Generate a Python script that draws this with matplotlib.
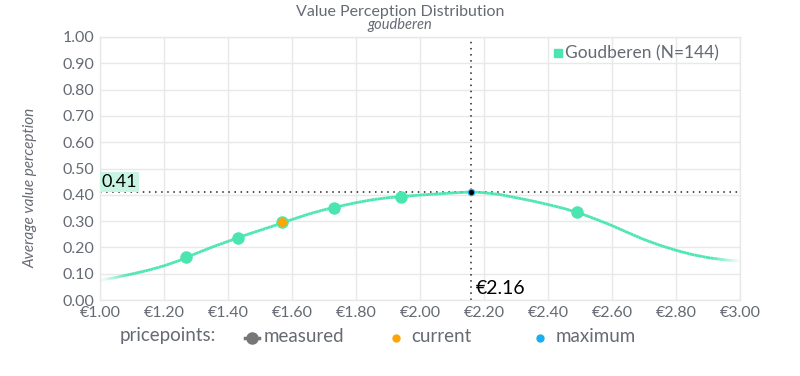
import matplotlib
matplotlib.use("Agg")
import matplotlib.pyplot as plt
from matplotlib.collections import LineCollection
from matplotlib.lines import Line2D
import numpy as np

plt.rcParams['font.family'] = ['Lato', 'DejaVu Sans']

# Fitted curve
curve_price = [1.00, 1.05, 1.10, 1.15, 1.20, 1.25, 1.30, 1.35, 1.40, 1.45, 1.50,
               1.55, 1.60, 1.65, 1.70, 1.75, 1.80, 1.85, 1.90, 1.95, 2.00, 2.05,
               2.10, 2.16, 2.20, 2.25, 2.30, 2.35, 2.40, 2.45, 2.50, 2.55, 2.60,
               2.65, 2.70, 2.75, 2.80, 2.85, 2.90, 2.95, 3.00]
curve_value = [0.075, 0.086, 0.099, 0.113, 0.130, 0.151, 0.177, 0.201, 0.223, 0.245, 0.265,
               0.285, 0.306, 0.326, 0.343, 0.357, 0.370, 0.381, 0.389, 0.394, 0.399, 0.403,
               0.407, 0.411, 0.408, 0.401, 0.389, 0.377, 0.363, 0.348, 0.330, 0.307, 0.283,
               0.256, 0.230, 0.208, 0.189, 0.173, 0.161, 0.153, 0.148]

# Measured price points
measured_price = [1.27, 1.43, 1.57, 1.73, 1.94, 2.49]
measured_value = [0.163, 0.237, 0.295, 0.351, 0.393, 0.333]

current_price = [1.57]
current_value = [0.295]

max_price = 2.16
max_value = 0.41

xticks = [1.0, 1.2, 1.4, 1.6, 1.8, 2.0, 2.2, 2.4, 2.6, 2.8, 3.0]
yticks = [0.0, 0.1, 0.2, 0.3, 0.4, 0.5, 0.6, 0.7, 0.8, 0.9, 1.0]

GREEN = '#4be6b0'
ORANGE = '#ffa500'
BLUE = '#1aaef2'
GRAY = '#666a73'

fig = plt.figure(figsize=(8, 3.76), dpi=100)
ax = fig.add_axes([0.125, 0.2021, 0.80, 0.6995])

ax.set_xlim(1.0, 3.0)
ax.set_ylim(0.0, 1.0)
ax.set_xticks(xticks)
ax.set_yticks(yticks)
ax.set_xticklabels([f"€{t:.2f}" for t in xticks])
ax.set_yticklabels([f"{t:.2f}" for t in yticks])
ax.tick_params(axis='both', length=0, colors=GRAY, labelsize=11.5, pad=4)
ax.grid(True, color='#e8e8e8', linewidth=1)
ax.set_axisbelow(True)
for s in ax.spines.values():
    s.set_color('#e8e8e8')
    s.set_linewidth(1)

# curve with faded ends (each read segment split into pieces only for the colour ramp)
segs = []
cols = []
for i in range(len(curve_price) - 1):
    x0, x1 = curve_price[i], curve_price[i + 1]
    y0, y1 = curve_value[i], curve_value[i + 1]
    k = 6
    for j in range(k):
        ta, tb = j / k, (j + 1) / k
        xa, xb = x0 + (x1 - x0) * ta, x0 + (x1 - x0) * tb
        ya, yb = y0 + (y1 - y0) * ta, y0 + (y1 - y0) * tb
        segs.append([(xa, ya), (xb, yb)])
        xm = 0.5 * (xa + xb)
        a = np.clip(min(xm - 1.0, 3.0 - xm) / 0.09, 0.08, 1.0)
        cols.append(matplotlib.colors.to_rgba(GREEN, a))
lc = LineCollection(segs, colors=cols, linewidths=2, capstyle='butt',
                    joinstyle='round', zorder=3)
ax.add_collection(lc)

# reference lines
ax.axhline(max_value, color='#222222', linestyle=(0, (1, 3)), linewidth=1.1, zorder=2)
ax.axvline(max_price, color='#222222', linestyle=(0, (1, 3)), linewidth=1.1, zorder=2)

ax.plot(measured_price, measured_value, 'o', color=GREEN, markersize=9, zorder=4,
        markeredgewidth=0)
ax.plot(current_price, current_value, 'o', color=ORANGE, markersize=6.5, zorder=5,
        markeredgewidth=0)
ax.plot([max_price], [max_value], 'o', color='black', markersize=4.5, zorder=6,
        markeredgecolor=BLUE, markeredgewidth=0.8)

ax.text(1.005, max_value + 0.008, "0.41", fontsize=13, color='black', ha='left', va='bottom',
        bbox=dict(boxstyle='square,pad=0.1', facecolor='#c8f5e3', edgecolor='none'),
        zorder=7)
ax.text(max_price + 0.015, 0.01, "€2.16", fontsize=14, color='black', ha='left', va='bottom',
        zorder=7)

# titles
fig.text(0.5, 0.987, "Value Perception Distribution", ha='center', va='top',
         fontsize=11.5, color=GRAY)
fig.text(0.5, 0.952, "goudberen", ha='center', va='top', fontsize=10.5,
         color=GRAY, style='italic')

ax.set_ylabel("Average value perception", fontsize=11, color=GRAY, style='italic')
ax.yaxis.set_label_coords(-0.097, 0.426)

# top-right legend
leg = ax.legend(handles=[Line2D([], [], marker='s', color=GREEN, linestyle='none',
                                markersize=5.5)],
                labels=["Goudberen (N=144)"], loc='upper right', frameon=False,
                fontsize=12.5, handlelength=0.5, handletextpad=0.15, borderaxespad=0.1,
                labelcolor=GRAY, bbox_to_anchor=(0.98, 1.0))

# bottom legend
ty = 1 - 336 / 376
fig.text(120/800, ty, "pricepoints:", ha='left', va='center', fontsize=13.5, color=GRAY)
fig.lines.append(Line2D([245/800, 259/800], [1-338/376, 1-338/376], color='#777777',
                        linewidth=2.5, transform=fig.transFigure))
fig.lines.append(Line2D([252/800], [1-338/376], marker='o', color='#777777',
                        markersize=8, transform=fig.transFigure, linestyle='none'))
fig.text(264/800, ty, "measured", ha='left', va='center', fontsize=13.5, color=GRAY)
fig.lines.append(Line2D([396/800], [1-338/376], marker='o', color=ORANGE,
                        markersize=5, transform=fig.transFigure, linestyle='none'))
fig.text(411/800, ty, "current", ha='left', va='center', fontsize=13.5, color=GRAY)
fig.lines.append(Line2D([540/800], [1-338/376], marker='o', color=BLUE,
                        markersize=5, transform=fig.transFigure, linestyle='none'))
fig.text(556/800, ty, "maximum", ha='left', va='center', fontsize=13.5, color=GRAY)

fig.savefig("out.png", dpi=100)
